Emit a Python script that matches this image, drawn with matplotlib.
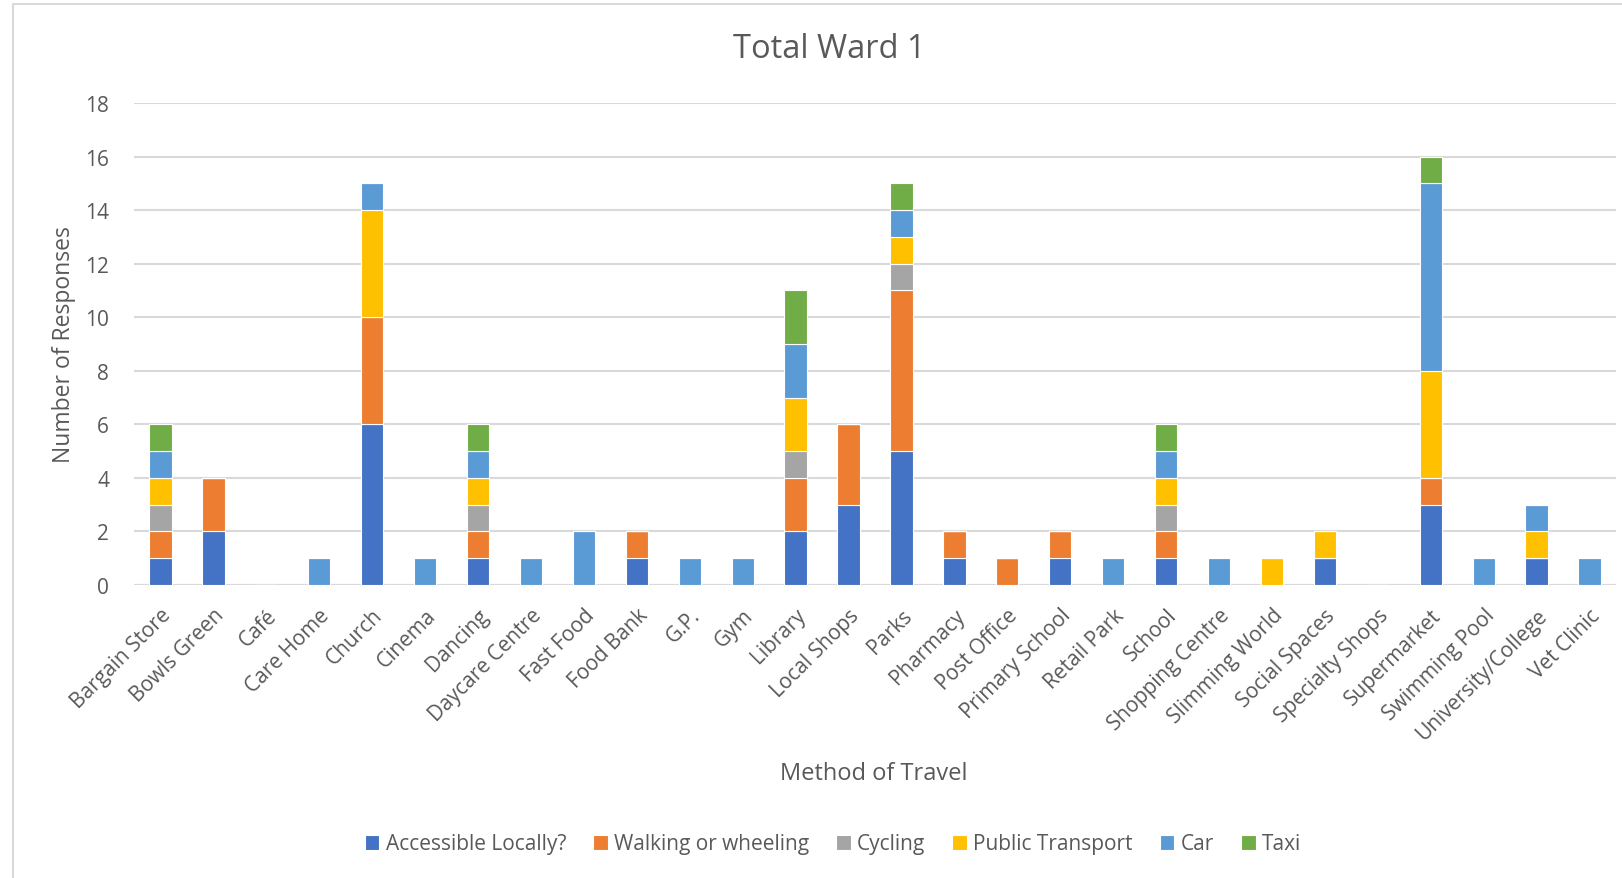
import numpy as np
import matplotlib
matplotlib.use("Agg")
import matplotlib.pyplot as plt
from matplotlib.patches import Rectangle

plt.rcParams["font.family"] = ["Open Sans", "DejaVu Sans"]

# ---- data ----
places = ["Bargain Store", "Bowls Green", "Café", "Care Home", "Church", "Cinema",
          "Dancing", "Daycare Centre", "Fast Food", "Food Bank", "G.P.", "Gym",
          "Library", "Local Shops", "Parks", "Pharmacy", "Post Office",
          "Primary School", "Retail Park", "School", "Shopping Centre",
          "Slimming World", "Social Spaces", "Specialty Shops", "Supermarket",
          "Swimming Pool", "University/College", "Vet Clinic"]

accessible = [1, 2, 0, 0, 6, 0, 1, 0, 0, 1, 0, 0, 2, 3, 5, 1, 0, 1, 0, 1, 0, 0, 1, 0, 3, 0, 1, 0]
walking    = [1, 2, 0, 0, 4, 0, 1, 0, 0, 1, 0, 0, 2, 3, 6, 1, 1, 1, 0, 1, 0, 0, 0, 0, 1, 0, 0, 0]
cycling    = [1, 0, 0, 0, 0, 0, 1, 0, 0, 0, 0, 0, 1, 0, 1, 0, 0, 0, 0, 1, 0, 0, 0, 0, 0, 0, 0, 0]
public_tr  = [1, 0, 0, 0, 4, 0, 1, 0, 0, 0, 0, 0, 2, 0, 1, 0, 0, 0, 0, 1, 0, 1, 1, 0, 4, 0, 1, 0]
car        = [1, 0, 0, 1, 1, 1, 1, 1, 2, 0, 1, 1, 2, 0, 1, 0, 0, 0, 1, 1, 1, 0, 0, 0, 7, 1, 1, 1]
taxi       = [1, 0, 0, 0, 0, 0, 1, 0, 0, 0, 0, 0, 2, 0, 1, 0, 0, 0, 0, 1, 0, 0, 0, 0, 1, 0, 0, 0]

series_names = ["Accessible Locally?", "Walking or wheeling", "Cycling",
                "Public Transport", "Car", "Taxi"]
series_vals = [accessible, walking, cycling, public_tr, car, taxi]
colors = ["#4472C4", "#ED7D31", "#A5A5A5", "#FFC000", "#5B9BD5", "#70AD47"]

# ---- figure ----
W, H = 1622, 879
fig = plt.figure(figsize=(W / 100, H / 100), dpi=100, facecolor="white")

# thin chart-area border (cropped on the right / bottom in the reference)
fig.patches.append(Rectangle((13 / W, -0.1), 1.2, 1 - 5 / H + 0.1,
                             transform=fig.transFigure, fill=False,
                             edgecolor="#D9D9D9", linewidth=1.5))

ax = fig.add_axes([134 / W, 1 - 586 / H, (1616 - 134) / W, (586 - 104) / H])

x = np.arange(len(places))
bottom = np.zeros(len(places))
for name, vals, col in zip(series_names, series_vals, colors):
    vals = np.array(vals, dtype=float)
    ax.bar(x, vals, width=0.42, bottom=bottom, color=col, label=name,
           edgecolor="white", linewidth=0.8, zorder=3)
    bottom += vals

ax.set_xlim(-0.5, len(places) - 0.5)
ax.set_ylim(0, 18)
ax.set_yticks(np.arange(0, 19, 2))
ax.grid(axis="y", color="#D9D9D9", linewidth=1.5, zorder=0)
for s in ax.spines.values():
    s.set_visible(False)
ax.axhline(0, color="#D9D9D9", linewidth=1.5, zorder=2)

ax.tick_params(axis="both", length=0, colors="#595959", labelsize=15)
ax.tick_params(axis="y", pad=18)
ax.set_xticks(x)
ax.set_xticklabels(places, rotation=45, ha="right", rotation_mode="anchor")
ax.tick_params(axis="x", pad=14)

ax.set_ylabel("Number of Responses", fontsize=16.5, color="#595959")
ax.set_xlabel("Method of Travel", fontsize=17, color="#595959")
ax.xaxis.set_label_coords((874 - 134) / (1616 - 134), -(762 - 586) / (586 - 104))
ax.yaxis.set_label_coords(-(134 - 76) / (1616 - 134), (586 - 345) / (586 - 104))

fig.text(829 / W, 1 - 50 / H, "Total Ward 1", fontsize=23.5, color="#595959",
         ha="center", va="center")

leg = fig.legend(loc="center", bbox_to_anchor=(833 / W, 1 - 845 / H), ncol=6,
                 frameon=False, fontsize=15, handlelength=0.7, handleheight=0.7,
                 handletextpad=0.3, columnspacing=1.3, labelcolor="#595959")

fig.savefig("out.png", dpi=100, facecolor="white")
